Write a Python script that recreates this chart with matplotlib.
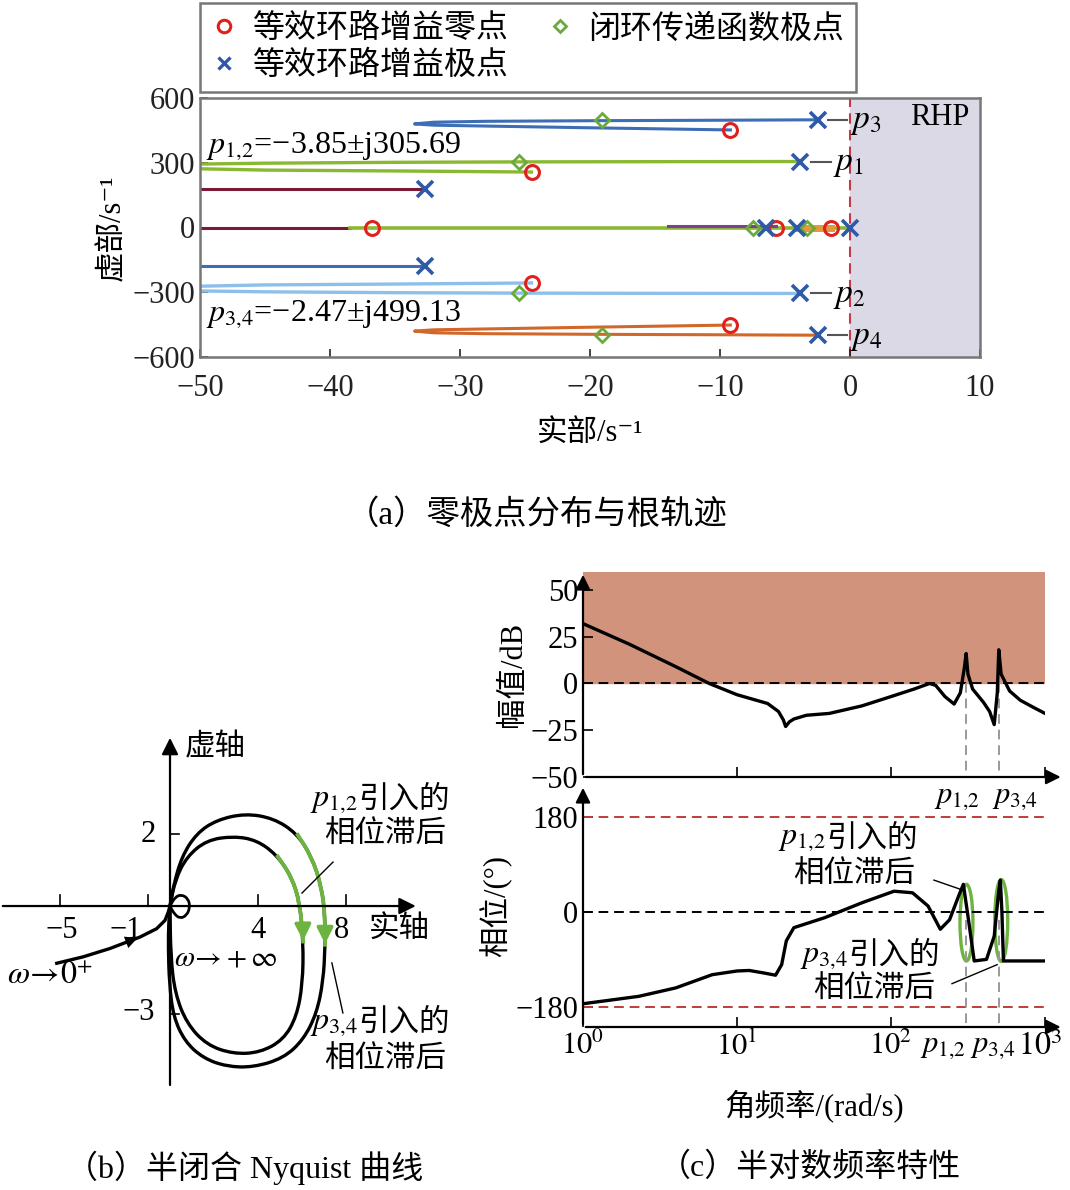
import matplotlib.pyplot as plt
from matplotlib.patches import Ellipse, PathPatch
from matplotlib.path import Path
from matplotlib.lines import Line2D


plt.rcParams['font.family'] = ['Liberation Serif', 'Noto Sans CJK SC', 'DejaVu Sans']
plt.rcParams['mathtext.fontset'] = 'stix'
plt.rcParams['font.size'] = 20
plt.rcParams['axes.unicode_minus'] = True


# ---------------- (a) pole / zero data ----------------
zero_re = [-9.2, -24.5, -36.8, -5.7, -1.5, -24.5, -9.2]
zero_im = [452, 257, 0, 0, 0, -257, -452]

ol_pole_re = [-2.47, -3.85, -32.7, -6.5, -4.1, 0.0, -32.7, -3.85, -2.47]
ol_pole_im = [499.13, 305.69, 180, 0, 0, 0, -180, -305.69, -499.13]

cl_pole_re = [-19.1, -25.5, -7.5, -3.3, -25.5, -19.1]
cl_pole_im = [498, 305, 0, 0, -305, -498]

# root locus branches
loc_p3_re = [-2.47, -10, -19.1, -28, -32, -33.5, -32, -28, -20, -9.2]
loc_p3_im = [499, 497, 495, 492, 488, 480, 474, 470, 462, 452]
loc_p4_re = loc_p3_re
loc_p4_im = [-v for v in loc_p3_im]

loc_p1_re = [-3.85, -15, -25.5, -35, -45, -50, -52, -50, -45, -35, -24.5]
loc_p1_im = [305.7, 305, 304, 302, 298, 294, 283, 272, 266, 262, 257]
loc_p2_re = loc_p1_re
loc_p2_im = [-v for v in loc_p1_im]

loc_asym_re = [-50, -32.7]
loc_asym_up = [180, 180]
loc_asym_dn = [-180, -180]

real_red_re = [-50, -38.5]
real_green_re = [-38.5, 0]
real_purple_re = [-14, -5.7]
real_orange_re = [-4.1, -1.5]

# ---------------- (b) Nyquist data ----------------
nyq_in_re = [-5.15, -3.94, -2.73, -1.36, -0.61, -0.23, -0.08, 0.0]
nyq_in_im = [-1.59, -1.41, -1.18, -0.86, -0.63, -0.40, -0.17, 0.0]

nyq_out_re = [0.0, 0.15, 0.53, 1.21, 2.12, 3.41, 4.70, 5.76, 6.44, 6.89, 7.05,
              7.05, 6.97, 6.67, 6.06, 5.15, 3.79, 2.58, 1.52, 0.68, 0.15,
              -0.03, -0.08, -0.06, 0.0]
nyq_out_im = [0.0, 0.54, 1.37, 2.02, 2.39, 2.57, 2.44, 2.02, 1.37, 0.54, -0.30,
              -1.13, -2.06, -2.98, -3.72, -4.23, -4.48, -4.46, -4.23, -3.77, -3.07,
              -2.15, -1.13, -0.48, 0.0]

nyq_inr_re = [0.0, 0.23, 0.76, 1.67, 2.88, 3.94, 4.85, 5.53, 5.91, 6.06, 6.03,
              5.76, 5.15, 4.09, 2.88, 1.67, 0.76, 0.23, 0.03, 0.0]
nyq_inr_im = [0.0, 0.72, 1.37, 1.83, 1.94, 1.83, 1.42, 0.81, 0.07, -1.04, -2.15,
              -3.07, -3.72, -4.07, -4.11, -3.86, -3.26, -2.43, -1.41, 0.0]

nyq_small_re = [0.0, 0.23, 0.53, 0.83, 0.91, 0.76, 0.45, 0.18, 0.0]
nyq_small_im = [0.0, 0.25, 0.32, 0.20, -0.03, -0.26, -0.35, -0.21, 0.0]

# ---------------- (c) Bode data ----------------
mag_w = [1, 2, 4, 6.6, 10, 15.8, 18.6, 20, 20.7, 21.9, 23.4, 28.2, 39.8, 64.6,
         100, 141, 178, 195, 224, 257, 282, 299, 307.6, 316, 339, 398, 437, 468,
         490, 501, 519, 589, 692, 851, 1000]
mag_db = [32, 21, 9, 0, -6, -10.7, -15, -19.5, -23, -20.5, -19, -17, -16, -12,
          -7, -3, 0, -1, -7, -11, -5, 8, 16, 5, -3, -10, -15, -22,
          -5, 18, 5, -4, -9, -13, -16]

ph_w = [1, 2.3, 4, 6.9, 10, 12, 15.1, 17.8, 19.5, 20.9, 23.4, 37.2, 64.6, 104.7,
        138, 174, 209, 240, 275, 295, 316, 347, 417, 468, 501, 513, 525, 537, 1000]
ph_deg = [-174, -160, -144, -119, -112, -111, -116, -120, -100, -55, -30, -11, 17,
          39, 36, 11, -33, -15, 30, 52, -8, -93, -90, -46, 40, 60, 0, -93, -93]

p12_w = 305.69
p34_w = 499.13


def smooth_loop(xs, ys):
    # quadratic bezier through midpoints of the traced points
    pts = list(zip(xs, ys))
    mids = [((pts[i][0] + pts[i + 1][0]) / 2, (pts[i][1] + pts[i + 1][1]) / 2)
            for i in range(len(pts) - 1)]
    verts = [pts[0], mids[0]]
    codes = [Path.MOVETO, Path.LINETO]
    for i in range(1, len(pts) - 1):
        verts += [pts[i], mids[i]]
        codes += [Path.CURVE3, Path.CURVE3]
    verts.append(pts[-1])
    codes.append(Path.LINETO)
    return Path(verts, codes)


def math_cn(ax, x, y, math, cn, size=22):
    ax.text(x, y, math, fontsize=size + 1, ha='right', va='center')
    ax.text(x, y, cn, fontsize=size, ha='left', va='center')


fig = plt.figure(figsize=(10.7, 11.9), dpi=100)

# ================= (a) root locus =================
ax = fig.add_axes([200 / 1070, 1 - 357 / 1190, 780 / 1070, 259 / 1190])
ax.axvspan(0, 10, color='#dcd9e6', zorder=0)
ax.axvline(0, color='#c23b4a', ls=(0, (5, 3)), lw=1.5, zorder=1)

ax.plot(loc_p3_re, loc_p3_im, color='#3d6db5', lw=2.2)
ax.plot(loc_p4_re, loc_p4_im, color='#d2672a', lw=2.2)
ax.plot(loc_p1_re, loc_p1_im, color='#8bb832', lw=2.4)
ax.plot(loc_p2_re, loc_p2_im, color='#8cc0ea', lw=2.4)
ax.plot(loc_asym_re, loc_asym_up, color='#7a1a35', lw=2.2)
ax.plot(loc_asym_re, loc_asym_dn, color='#3d6db5', lw=2.2)
ax.plot(real_red_re, [0, 0], color='#7a1a35', lw=2.2)
ax.plot(real_green_re, [0, 0], color='#8bb832', lw=2.6)
ax.plot(real_purple_re, [6, 6], color='#7b3f98', lw=2.2)
ax.plot(real_orange_re, [0, 0], color='#e09a3a', lw=5)

ax.plot(zero_re, zero_im, 'o', ms=10, mfc='none', mec='#e0201b', mew=2.2, ls='none', zorder=5)
ax.plot(cl_pole_re, cl_pole_im, 'D', ms=7, mfc='none', mec='#6aaa3a', mew=2, ls='none', zorder=6)
ax.plot(ol_pole_re, ol_pole_im, 'x', ms=11, mec='#2f5aa8', mew=2.6, ls='none', zorder=7)

# pole labels
for yv, lab, xs in [(499.13, '$p_3$', -1.7), (-499.13, '$p_4$', -1.7),
                    (305.69, '$p_1$', -3.0), (-305.69, '$p_2$', -3.0)]:
    ax.plot([xs, xs + 1.5], [yv, yv], color='#555555', lw=1.5, zorder=4)
    ax.text(xs + 1.7, yv - 10, lab, fontsize=24, va='center', ha='left')

ax.text(6.9, 510, 'RHP', fontsize=22, ha='center', va='center')
ax.text(-49.5, 375, '$p_{1{,}2}$=−3.85±j305.69', fontsize=23, ha='left', va='center')
ax.text(-49.5, -400, '$p_{3{,}4}$=−2.47±j499.13', fontsize=23, ha='left', va='center')

ax.set_xlim(-50, 10)
ax.set_ylim(-600, 600)
ax.set_xticks([-50, -40, -30, -20, -10, 0, 10])
ax.set_yticks([-600, -300, 0, 300, 600])
ax.tick_params(direction='in', labelsize=22, length=6, width=1.2, colors='#222222')
ax.tick_params(axis='x', pad=12)
for s in ax.spines.values():
    s.set_color('#777777')
    s.set_linewidth(1.8)
ax.set_xlabel('实部/s⁻¹', fontsize=22, labelpad=12)
ax.set_ylabel('虚部/s⁻¹', fontsize=22, labelpad=4)

handles = [
    Line2D([], [], marker='o', ls='none', ms=9, mfc='none', mec='#e0201b', mew=2.2),
    Line2D([], [], marker='x', ls='none', ms=9, mec='#2f5aa8', mew=2.4),
    Line2D([], [], marker='D', ls='none', ms=6, mfc='none', mec='#6aaa3a', mew=2),
]
labels = ['等效环路增益零点', '等效环路增益极点', '闭环传递函数极点']
leg = fig.legend(handles, labels, loc='upper left', bbox_to_anchor=(200 / 1070, 1 - 3 / 1190),
                 ncol=2, fontsize=23, frameon=True, fancybox=False, edgecolor='#555555',
                 handlelength=0.8, handletextpad=0.5, columnspacing=1.2,
                 borderpad=0.35, labelspacing=0.2, borderaxespad=0)
leg.get_frame().set_linewidth(1.8)

fig.text(537 / 1070, 1 - 515 / 1190, '（a）零极点分布与根轨迹', fontsize=24,
         ha='center', va='center')

# ================= (b) Nyquist =================
axn = fig.add_axes([0, 1 - 1095 / 1190, 470 / 1070, 365 / 1190])
axn.set_xlim(-7.73, 13.64)
axn.set_ylim(-5.25, 4.89)
axn.axis('off')

arw = dict(arrowstyle='-|>', color='black', lw=1.6, mutation_scale=25)
axn.annotate('', xy=(11.3, 0), xytext=(-7.73, 0), arrowprops=arw)
axn.annotate('', xy=(0, 4.75), xytext=(0, -5.05), arrowprops=arw)
for t in [-5, -1, 4, 8]:
    axn.plot([t, t], [0, 0.3], color='black', lw=1.2)
for t in [2, -3]:
    axn.plot([0, 0.4], [t, t], color='black', lw=1.2)
for t, lab in [(-4.9, '−5'), (-2.0, '−1'), (4.0, '4'), (7.8, '8')]:
    axn.text(t, -0.67, lab, fontsize=22, ha='center', va='center')
axn.text(-1.0, 2.0, '2', fontsize=22, ha='center', va='center')
axn.text(-1.4, -2.97, '−3', fontsize=22, ha='center', va='center')

axn.plot(nyq_in_re, nyq_in_im, color='black', lw=2.4)
axn.annotate('', xy=(nyq_in_re[3], nyq_in_im[3]), xytext=(nyq_in_re[2], nyq_in_im[2]),
             arrowprops=dict(arrowstyle='-|>', color='black', lw=0, mutation_scale=22))
for xs, ys, lw in [(nyq_out_re, nyq_out_im, 2.4), (nyq_inr_re, nyq_inr_im, 2.4),
                   (nyq_small_re, nyq_small_im, 2.0)]:
    axn.add_patch(PathPatch(smooth_loop(xs, ys), fill=False, ec='black', lw=lw))

green = '#6cb33f'
axn.add_patch(PathPatch(smooth_loop(nyq_inr_re[6:10], nyq_inr_im[6:10]),
                        fill=False, ec=green, lw=2.8))
axn.annotate('', xy=(nyq_inr_re[9], nyq_inr_im[9]), xytext=(nyq_inr_re[9] - 0.02, nyq_inr_im[9] + 0.6),
             arrowprops=dict(arrowstyle='-|>', color=green, lw=2.6, mutation_scale=24))
axn.add_patch(PathPatch(smooth_loop(nyq_out_re[7:12], nyq_out_im[7:12]),
                        fill=False, ec=green, lw=2.8))
axn.annotate('', xy=(nyq_out_re[11], nyq_out_im[11]), xytext=(nyq_out_re[11], nyq_out_im[11] + 0.6),
             arrowprops=dict(arrowstyle='-|>', color=green, lw=2.6, mutation_scale=24))

axn.text(2.05, 4.39, '虚轴', fontsize=22, ha='center', va='center')
axn.text(10.45, -0.67, '实轴', fontsize=22, ha='center', va='center')
axn.text(-5.45, -1.95, r'$\omega\!\rightarrow\!0^{+}$', fontsize=23, ha='center', va='center')
axn.text(2.55, -1.45, r'$\omega\!\rightarrow\!+\infty$', fontsize=21, ha='center', va='center')
math_cn(axn, 8.55, 2.94, '$p_{1{,}2}$', '引入的')
axn.text(9.77, 1.97, '相位滞后', fontsize=22, ha='center', va='center')
axn.plot([6.0, 7.41], [0.36, 1.22], color='black', lw=1.0)
math_cn(axn, 8.55, -3.25, '$p_{3{,}4}$', '引入的')
axn.text(9.77, -4.28, '相位滞后', fontsize=22, ha='center', va='center')
axn.plot([7.36, 7.86], [-1.58, -2.97], color='black', lw=1.0)

fig.text(245 / 1070, 1 - 1168 / 1190, '（b）半闭合 Nyquist 曲线', fontsize=23,
         ha='center', va='center')

# ================= (c) Bode =================
left_c = 583 / 1070
width_c = 462 / 1070
axm = fig.add_axes([left_c, 1 - 777 / 1190, width_c, 205 / 1190])
axp = fig.add_axes([left_c, 1 - 1027 / 1190, width_c, 242 / 1190])
axp.set_facecolor('none')

for a in (axm, axp):
    a.set_xscale('log')
    a.set_xlim(1, 1000)
    for s in ['top', 'right', 'bottom', 'left']:
        a.spines[s].set_visible(False)
    a.annotate('', xy=(1.04, 0), xytext=(0, 0), xycoords='axes fraction',
               arrowprops=dict(arrowstyle='-|>', color='black', lw=1.6, mutation_scale=22))
    a.annotate('', xy=(0, 1.0), xytext=(0, 0), xycoords='axes fraction',
               arrowprops=dict(arrowstyle='-|>', color='black', lw=1.6, mutation_scale=22))
    a.tick_params(direction='in', labelsize=22, length=7, width=1.2)
    a.minorticks_off()

axm.set_ylim(-50, 59.6)
axm.axhspan(0, 60, color='#d1937c', zorder=0)
axm.axhline(0, color='black', ls=(0, (5, 3)), lw=1.4)
axm.plot([p12_w, p12_w], [0, -50], color='#999999', ls=(0, (5, 3)), lw=1.4)
axm.plot([p34_w, p34_w], [0, -50], color='#999999', ls=(0, (5, 3)), lw=1.4)
axm.plot(mag_w, mag_db, color='black', lw=2.4)
axm.set_yticks([-50, -25, 0, 25, 50])
axm.set_xticks([10, 100, 1000])
axm.set_xticklabels([])
axm.set_ylabel('幅值/dB', fontsize=22, labelpad=2)
axm.text(268, -61, '$p_{1{,}2}$', fontsize=22, ha='center', va='center')
axm.text(638, -61, '$p_{3{,}4}$', fontsize=22, ha='center', va='center')

axp.set_ylim(-218, 240)
axp.axhline(180, color='#c23b3b', ls=(0, (5, 3)), lw=1.4)
axp.axhline(-180, color='#c23b3b', ls=(0, (5, 3)), lw=1.4)
axp.axhline(0, color='black', ls=(0, (5, 3)), lw=1.4)
axp.plot([p12_w, p12_w], [-15, -218], color='#999999', ls=(0, (5, 3)), lw=1.4)
axp.plot([p34_w, p34_w], [-15, -218], color='#999999', ls=(0, (5, 3)), lw=1.4)
axp.plot(ph_w, ph_deg, color='black', lw=2.4)
for cx, cy, h in [(2.49, -20.5, 145), (2.716, -16.5, 155)]:
    axp.add_patch(Ellipse((cx / 3, (cy + 218) / 458), 0.028, h / 458,
                          transform=axp.transAxes, fill=False, ec=green, lw=2.4))
axp.set_yticks([-180, 0, 180])
axp.set_xticks([1, 10, 100, 1000])
axp.set_xticklabels(['$10^0$', '$10^1$', '$10^2$', ''])
axp.text(930, -255, '$10^3$', fontsize=23, ha='center', va='center')
axp.text(218, -255, '$p_{1{,}2}$', fontsize=22, ha='center', va='center')
axp.text(459, -255, '$p_{3{,}4}$', fontsize=22, ha='center', va='center')
axp.set_ylabel('相位/(°)', fontsize=22, labelpad=2)
axp.set_xlabel('角频率/(rad/s)', fontsize=22, labelpad=20)

math_cn(axp, 37.8, 138, '$p_{1{,}2}$', '引入的')
axp.text(57.5, 70, '相位滞后', fontsize=22, ha='center', va='center')
axp.plot([190, 280], [60, 43], color='black', lw=1.0)
math_cn(axp, 52.6, -85, '$p_{3{,}4}$', '引入的')
axp.text(77.6, -148, '相位滞后', fontsize=22, ha='center', va='center')
axp.plot([249, 489], [-136, -100], color='black', lw=1.0)

fig.text(810 / 1070, 1 - 1168 / 1190, '（c）半对数频率特性', fontsize=23,
         ha='center', va='center')

plt.savefig('out.png', dpi=100)
